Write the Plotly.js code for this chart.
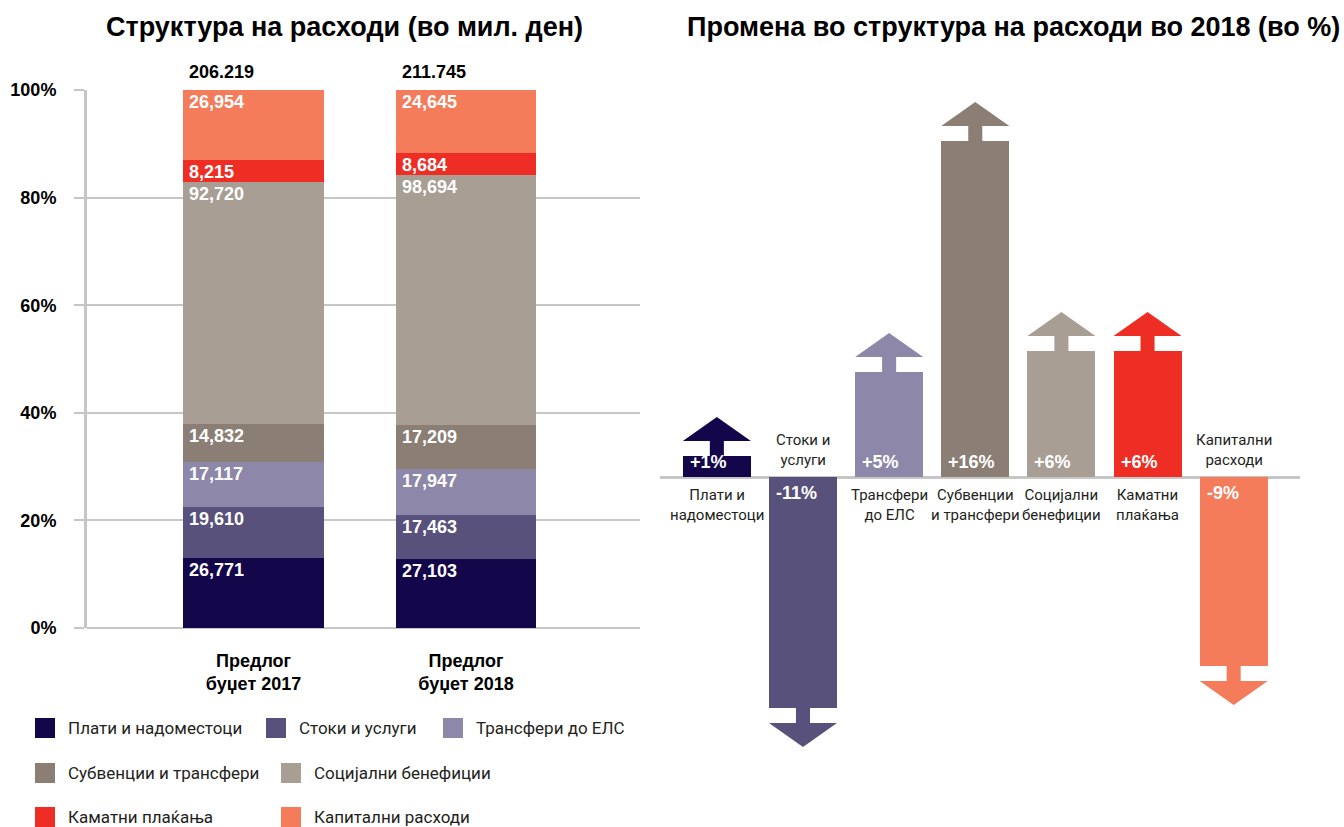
<!DOCTYPE html>
<html>
<head>
<meta charset="utf-8">
<script src="https://cdn.plot.ly/plotly-3.0.1.min.js"></script>
<style>
  html, body { margin: 0; padding: 0; background: #ffffff; }
  #chart { width: 1344px; height: 827px; }
</style>
</head>
<body>
<div id="chart"></div>
<script>
// ---------------- DATA ----------------
const budgetCategories = ['Предлог<br>буџет 2017', 'Предлог<br>буџет 2018'];
const seriesNames = ['Плати и надоместоци', 'Стоки и услуги', 'Трансфери до ЕЛС',
  'Субвенции и трансфери', 'Социјални бенефиции', 'Каматни плаќања', 'Капитални расходи'];
const values2017 = [26771, 19610, 17117, 14832, 92720, 8215, 26954];
const values2018 = [27103, 17463, 17947, 17209, 98694, 8684, 24645];
const yTickVals = [0, 20, 40, 60, 80, 100];
const yTickText = ['0%', '20%', '40%', '60%', '80%', '100%'];

const changeCategories = ['Плати и<br>надоместоци', 'Стоки и<br>услуги', 'Трансфери<br>до ЕЛС',
  'Субвенции<br>и трансфери', 'Социјални<br>бенефиции', 'Каматни<br>плаќања', 'Капитални<br>расходи'];
const changeValues = [1, -11, 5, 16, 6, 6, -9];
const changeLabels = ['+1%', '-11%', '+5%', '+16%', '+6%', '+6%', '-9%'];

const leftTitle = 'Структура на расходи (во мил. ден)';
const rightTitle = 'Промена во структура на расходи во 2018 (во %)';

// ---------------- STYLE ----------------
const colors = ['#13064a', '#58517b', '#8d88a9', '#8b7f75', '#a89e94', '#ee2e25', '#f47c5b'];
const gridColor = '#c6c6c6';
const W = 1344, H = 827;
const px = x => x / W;
const py = y => 1 - y / H;
const numFont = 'Liberation Sans, Arial, sans-serif';
const txtFont = 'Roboto, sans-serif';

const leftBarWidth = 0.66;
const rightBarWidth = 0.79;
const neckLen = 15 / 21, headLen = 24 / 21, neckHalf = 7 / 86;

// ---------------- TRACES ----------------
const yearValues = [values2017, values2018];
const totals = yearValues.map(v => v.reduce((a, b) => a + b, 0));
const pct = yearValues.map((v, i) => v.map(x => x / totals[i] * 100));

const traces = [];
seriesNames.forEach((name, j) => {
  traces.push({
    type: 'bar', name: name,
    x: budgetCategories, y: [pct[0][j], pct[1][j]],
    width: leftBarWidth,
    marker: { color: colors[j], line: { width: 0 } },
    xaxis: 'x', yaxis: 'y', showlegend: false, hoverinfo: 'skip'
  });
});

const idx = changeValues.map((_, i) => i);
traces.push({
  type: 'bar', x: idx, y: changeValues, width: rightBarWidth,
  marker: { color: colors, line: { width: 0 } },
  xaxis: 'x2', yaxis: 'y2', showlegend: false, hoverinfo: 'skip'
});
changeValues.forEach((v, i) => {
  const s = Math.sign(v);
  const a = v + s * neckLen;
  const t = a + s * headLen;
  const hw = rightBarWidth / 2;
  traces.push({
    type: 'scatter', mode: 'lines', fill: 'toself',
    x: [i - neckHalf, i - neckHalf, i - hw, i, i + hw, i + neckHalf, i + neckHalf, i - neckHalf],
    y: [v, a, a, t, a, a, v, v],
    fillcolor: colors[i], line: { width: 0, color: colors[i] },
    xaxis: 'x2', yaxis: 'y2', showlegend: false, hoverinfo: 'skip'
  });
});

// ---------------- ANNOTATIONS ----------------
const annotations = [];
annotations.push({ text: leftTitle, xref: 'paper', yref: 'paper', x: px(345), y: py(27),
  xanchor: 'center', yanchor: 'middle', showarrow: false,
  font: { family: numFont, size: 27, color: '#000', weight: 'bold' } });
annotations.push({ text: rightTitle, xref: 'paper', yref: 'paper', x: px(1013), y: py(27),
  xanchor: 'center', yanchor: 'middle', showarrow: false,
  font: { family: numFont, size: 27, color: '#000', weight: 'bold' } });

yearValues.forEach((vals, i) => {
  let cum = 0;
  vals.forEach((v, j) => {
    cum += pct[i][j];
    annotations.push({ text: v.toLocaleString('en-US'), xref: 'x', yref: 'y',
      x: i - leftBarWidth / 2, y: cum, xanchor: 'left', yanchor: 'top', xshift: 4, yshift: 0,
      showarrow: false, font: { family: numFont, size: 18, color: '#ffffff', weight: 'bold' } });
  });
  annotations.push({ text: (totals[i] / 1000).toFixed(3), xref: 'x', yref: 'y',
    x: i - leftBarWidth / 2, y: 100, xanchor: 'left', yanchor: 'bottom', xshift: 4, yshift: 6,
    showarrow: false, font: { family: numFont, size: 18, color: '#000', weight: 'bold' } });
});

changeValues.forEach((v, i) => {
  const pos = v > 0;
  annotations.push({ text: changeLabels[i], xref: 'x2', yref: 'y2',
    x: i - rightBarWidth / 2, y: 0, xanchor: 'left', yanchor: pos ? 'bottom' : 'top',
    xshift: 5, yshift: pos ? 3 : -4, showarrow: false,
    font: { family: numFont, size: 18, color: '#ffffff', weight: 'bold' } });
  annotations.push({ text: changeCategories[i], xref: 'x2', yref: 'y2',
    x: i, y: 0, xanchor: 'center', yanchor: pos ? 'top' : 'bottom',
    yshift: pos ? -7 : 6, showarrow: false, align: 'center',
    font: { family: txtFont, size: 15, color: '#231f20' } });
});

// custom legend
const legendRows = [[0, 1, 2], [3, 4], [5, 6]];
const legendRowY = [728, 773, 817];
const legendColX = [[35, 266, 443], [35, 281], [35, 281]];
const shapes = [];
legendRows.forEach((row, r) => {
  row.forEach((j, c) => {
    const x0 = legendColX[r][c], yc = legendRowY[r];
    shapes.push({ type: 'rect', xref: 'paper', yref: 'paper',
      x0: px(x0), x1: px(x0 + 20), y0: py(yc + 10), y1: py(yc - 10),
      fillcolor: colors[j], line: { width: 0 } });
    annotations.push({ text: seriesNames[j], xref: 'paper', yref: 'paper',
      x: px(x0 + 31), y: py(yc), xanchor: 'left', yanchor: 'middle', showarrow: false,
      font: { family: txtFont, size: 17, color: '#231f20' } });
  });
});

// ---------------- LAYOUT ----------------
const layout = {
  width: W, height: H,
  margin: { l: 0, r: 0, t: 0, b: 0 },
  paper_bgcolor: '#ffffff', plot_bgcolor: 'rgba(0,0,0,0)',
  barmode: 'stack', bargap: 0,
  showlegend: false,
  xaxis: {
    domain: [px(87), px(640)], type: 'category', range: [-0.784, 1.819],
    showgrid: false, zeroline: false, showline: false, ticks: '',
    ticklabelstandoff: 20,
    tickfont: { family: numFont, size: 18, color: '#000', weight: 'bold' },
    anchor: 'y', fixedrange: true
  },
  yaxis: {
    domain: [py(628), py(90)], range: [0, 100],
    tickmode: 'array', tickvals: yTickVals, ticktext: yTickText,
    showgrid: true, gridcolor: gridColor, gridwidth: 2,
    zeroline: true, zerolinecolor: gridColor, zerolinewidth: 2,
    showline: true, linecolor: gridColor, linewidth: 3,
    ticks: 'outside', ticklen: 10, tickwidth: 2, tickcolor: gridColor,
    ticklabelstandoff: 14,
    tickfont: { family: numFont, size: 18, color: '#000', weight: 'bold' },
    anchor: 'x', fixedrange: true
  },
  xaxis2: {
    domain: [px(660), px(1300)], range: [-0.66, 6.77],
    showgrid: false, zeroline: false, showline: false, showticklabels: false, ticks: '',
    anchor: 'y2', fixedrange: true
  },
  yaxis2: {
    domain: [py(771), py(78)], range: [-14, 19],
    showgrid: false, showline: false, showticklabels: false, ticks: '',
    zeroline: true, zerolinecolor: gridColor, zerolinewidth: 3,
    anchor: 'x2', fixedrange: true
  },
  annotations: annotations,
  shapes: shapes
};

Plotly.newPlot('chart', traces, layout, { displayModeBar: false, staticPlot: true });
</script>
</body>
</html>
